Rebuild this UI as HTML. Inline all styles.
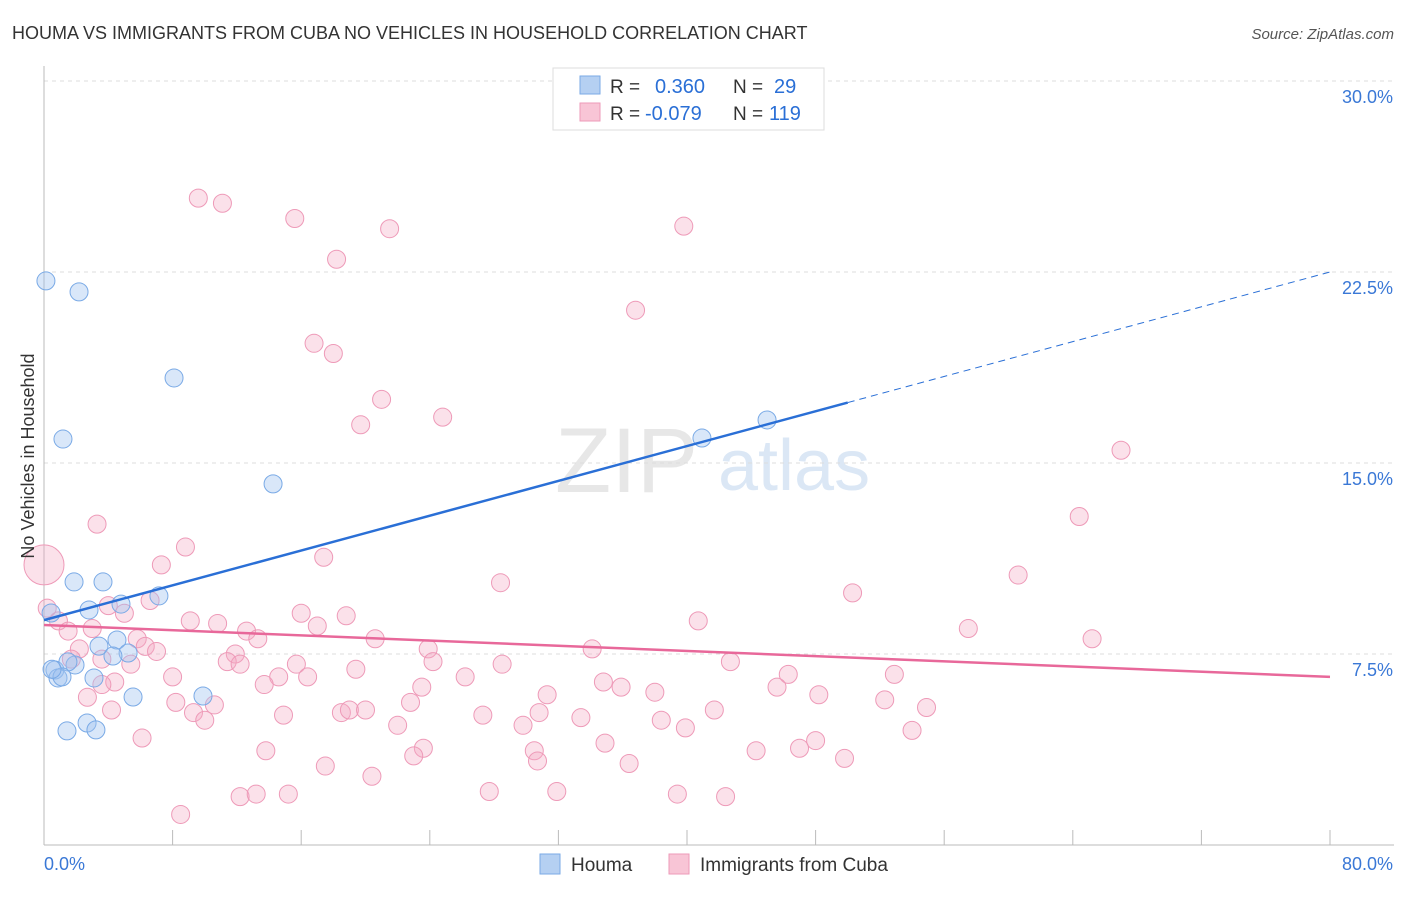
<!DOCTYPE html>
<html><head><meta charset="utf-8"><style>
body{margin:0;background:#fff;font-family:"Liberation Sans",sans-serif}
svg text{font-family:"Liberation Sans",sans-serif}
</style></head><body>
<svg id="chart" width="1406" height="892" xmlns="http://www.w3.org/2000/svg">
<text x="12" y="39" font-size="18" fill="#333">HOUMA VS IMMIGRANTS FROM CUBA NO VEHICLES IN HOUSEHOLD CORRELATION CHART</text>
<text x="1394" y="39" font-size="15" fill="#555" text-anchor="end" font-style="italic">Source: ZipAtlas.com</text>
<g>
<text x="555" y="492" font-size="92" fill="#d8d8d8" font-family="Liberation Serif" opacity="0.6">ZIP</text>
<text x="718" y="490" font-size="72" fill="#c4d8f0" opacity="0.6">atlas</text>
</g>
<g id="grid"></g>
<g id="axes"></g>
<g id="pts"></g>
<g id="lines"></g>
<text transform="translate(34,456) rotate(-90)" font-size="18" fill="#333" text-anchor="middle">No Vehicles in Household</text>
<g>
<rect x="553" y="68" width="271" height="62" fill="#fff" stroke="#ddd"/>
<rect x="580" y="76" width="20" height="18" fill="#b5d0f2" stroke="#7aaae6"/>
<rect x="580" y="103" width="20" height="18" fill="#f8c5d6" stroke="#ee9ab8"/>
<text x="610" y="93" font-size="19" fill="#333">R =</text>
<text x="655" y="93" font-size="20" fill="#2a6fd6">0.360</text>
<text x="733" y="93" font-size="19" fill="#333">N =</text>
<text x="774" y="93" font-size="20" fill="#2a6fd6">29</text>
<text x="610" y="120" font-size="19" fill="#333">R =</text>
<text x="645" y="120" font-size="20" fill="#2a6fd6">-0.079</text>
<text x="733" y="120" font-size="19" fill="#333">N =</text>
<text x="769" y="120" font-size="20" fill="#2a6fd6">119</text>
</g>
<g>
<rect x="540" y="854" width="20" height="20" fill="#b5d0f2" stroke="#7aaae6"/>
<text x="571" y="871" font-size="19" fill="#333">Houma</text>
<rect x="669" y="854" width="20" height="20" fill="#f8c5d6" stroke="#ee9ab8"/>
<text x="700" y="871" font-size="19" fill="#333">Immigrants from Cuba</text>
</g>
</svg>
<script>
const yTicks=[7.5,15,22.5,30];
const yTickLabels=["7.5%","15.0%","22.5%","30.0%"];
const xTicks=[0,8,16,24,32,40,48,56,64,72,80];
const houmaX=[0.12,2.18,1.18,8.09,14.25,40.93,44.98,1.87,3.67,7.15,2.80,0.44,4.79,4.54,3.42,5.23,4.29,0.68,1.93,1.49,0.87,1.12,3.11,5.54,9.89,2.68,3.23,1.43,0.5];
const houmaY=[22.15,21.72,15.94,18.34,14.18,15.98,16.69,10.33,10.33,9.78,9.23,9.11,9.46,8.05,7.81,7.54,7.42,6.87,7.07,7.19,6.56,6.60,6.56,5.81,5.85,4.79,4.52,4.48,6.9];
const cubaX=[9.6,11.1,15.6,21.5,39.8,18.2,36.8,16.8,18.0,21.0,19.7,24.8,67.0,3.3,64.4,8.8,17.4,7.3,28.4,60.6,50.3,0.2,0.9,6.6,5.0,18.8,16.0,9.1,10.8,17.0,40.7,57.5,65.2,3.0,4.0,1.5,5.8,12.6,13.3,20.6,2.2,6.3,7.0,23.9,34.1,1.7,3.6,5.4,11.9,11.4,12.2,15.7,24.2,28.5,42.7,19.4,8.0,14.6,16.4,26.2,46.3,52.9,4.4,3.6,13.7,23.5,34.8,35.9,38.0,45.6,31.3,48.2,2.7,8.2,10.6,52.3,4.2,9.3,10.0,14.9,18.5,19.0,20.0,22.8,27.3,30.8,33.4,38.4,41.7,54.9,22.0,29.8,39.9,54.0,6.1,34.9,13.8,23.6,30.5,23.0,44.3,47.0,48.0,49.8,30.7,17.5,36.4,20.4,12.2,13.2,15.2,27.7,31.9,39.4,42.4,8.5,0];
const cubaY=[25.4,25.2,24.6,24.2,24.3,23.0,21.0,19.7,19.3,17.5,16.5,16.8,15.5,12.6,12.9,11.7,11.3,11.0,10.3,10.6,9.9,9.3,8.8,9.6,9.1,9.0,9.1,8.8,8.7,8.6,8.8,8.5,8.1,8.5,9.4,8.4,8.1,8.4,8.1,8.1,7.7,7.8,7.6,7.7,7.7,7.3,7.3,7.1,7.5,7.2,7.1,7.1,7.2,7.1,7.2,6.9,6.6,6.6,6.6,6.6,6.7,6.7,6.4,6.3,6.3,6.2,6.4,6.2,6.0,6.2,5.9,5.9,5.8,5.6,5.5,5.7,5.3,5.2,4.9,5.1,5.2,5.3,5.3,5.6,5.1,5.2,5.0,4.9,5.3,5.4,4.7,4.7,4.6,4.5,4.2,4.0,3.7,3.8,3.7,3.5,3.7,3.8,4.1,3.4,3.3,3.1,3.2,2.7,1.9,2.0,2.0,2.1,2.1,2.0,1.9,1.2,11.0];
const houmaTrend=[8.83,22.5];
const cubaTrend=[8.64,6.6];
const NS="http://www.w3.org/2000/svg";
const X0=44,X1=1330,Y0=845,YTOP=81;
const sx=v=>X0+v/80*(X1-X0);
const sy=v=>Y0-v/30*(Y0-YTOP);
function mk(tag,attrs,parent){const e=document.createElementNS(NS,tag);for(const k in attrs)e.setAttribute(k,attrs[k]);parent.appendChild(e);return e;}
const grid=document.getElementById('grid'),axes=document.getElementById('axes'),pts=document.getElementById('pts'),lines=document.getElementById('lines');
yTicks.forEach((t,i)=>{
const l=mk('line',{x1:X0,x2:1394,y1:sy(t),y2:sy(t),stroke:'#ddd','stroke-dasharray':'4,4'},grid);


const tx=mk('text',{x:1393,y:sy(t)+22,'font-size':18,fill:'#3a78d6','text-anchor':'end'},axes);
tx.textContent=yTickLabels[i];


});
const ax=mk('line',{x1:X0,x2:1394,y1:Y0,y2:Y0,stroke:'#bbb'},axes);


const ay=mk('line',{x1:X0,x2:X0,y1:66,y2:Y0,stroke:'#bbb'},axes);


xTicks.forEach(t=>{
const l=mk('line',{x1:sx(t),x2:sx(t),y1:Y0,y2:Y0-15,stroke:'#bbb'},axes);


});
const xl0=mk('text',{x:44,y:870,'font-size':18,fill:'#3a78d6'},axes);xl0.textContent='0.0%';


const xl1=mk('text',{x:1393,y:870,'font-size':18,fill:'#3a78d6','text-anchor':'end'},axes);xl1.textContent='80.0%';


cubaX.forEach((x,i)=>{
const big=(i===cubaX.length-1);
const c=mk('circle',{cx:sx(x),cy:sy(cubaY[i]),r:big?20:9,fill:'rgba(244,170,195,0.35)',stroke:'#ee9ab8','stroke-width':1},pts);


});
houmaX.forEach((x,i)=>{
const c=mk('circle',{cx:sx(x),cy:sy(houmaY[i]),r:9,fill:'rgba(160,196,240,0.4)',stroke:'#7aaae6','stroke-width':1},pts);


});
const hy=x=>houmaTrend[0]+(houmaTrend[1]-houmaTrend[0])*x/80;
const l1=mk('line',{x1:sx(0),y1:sy(hy(0)),x2:sx(50),y2:sy(hy(50)),stroke:'#2a6fd6','stroke-width':2.5},lines);


const l2=mk('line',{x1:sx(50),y1:sy(hy(50)),x2:sx(80),y2:sy(hy(80)),stroke:'#2a6fd6','stroke-width':1,'stroke-dasharray':'7,5'},lines);


const l3=mk('line',{x1:sx(0),y1:sy(cubaTrend[0]),x2:sx(80),y2:sy(cubaTrend[1]),stroke:'#e8689a','stroke-width':2.5},lines);


</script>
</body></html>
